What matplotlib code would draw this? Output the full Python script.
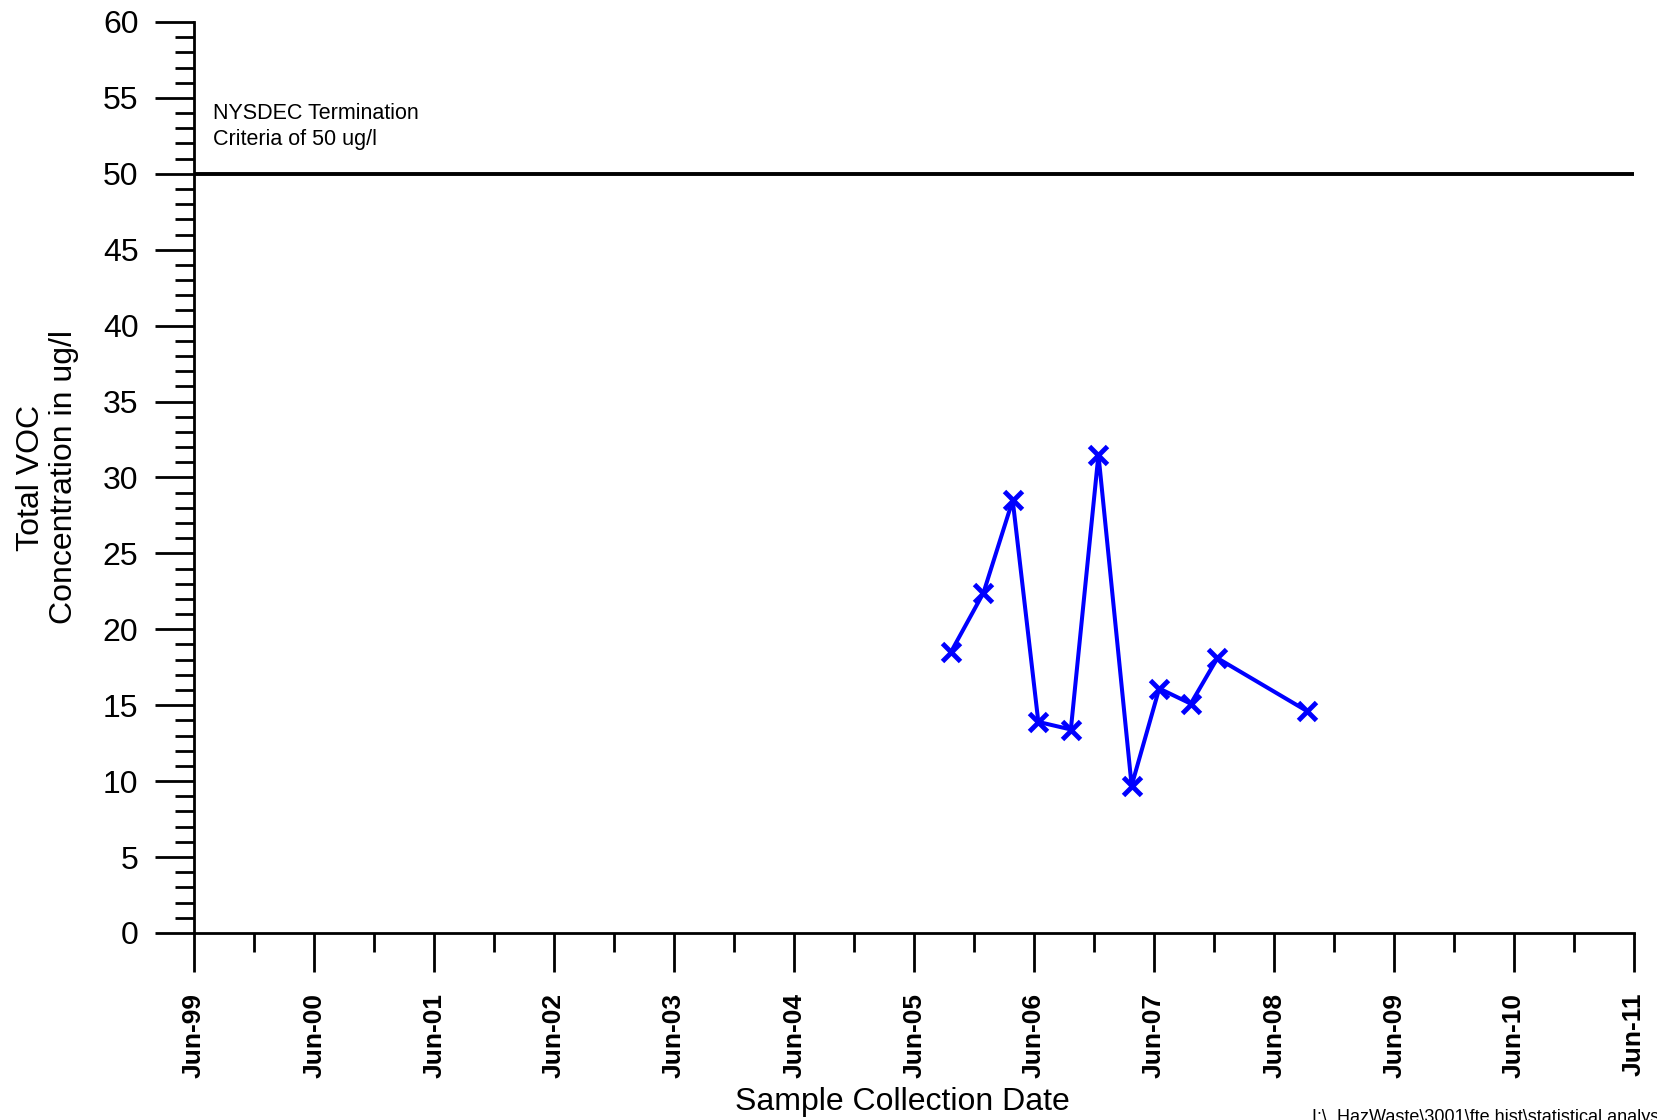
import datetime
import matplotlib
matplotlib.use('Agg')
import matplotlib.pyplot as plt
import matplotlib.dates as mdates
from matplotlib.ticker import MultipleLocator

plt.rcParams['font.family'] = ['Liberation Sans', 'DejaVu Sans']

# sample dates and total VOC concentrations (ug/l)
sample_dates = [
    datetime.date(2005, 9, 21), datetime.date(2005, 12, 29),
    datetime.date(2006, 3, 28), datetime.date(2006, 6, 14),
    datetime.date(2006, 9, 21), datetime.date(2006, 12, 14),
    datetime.date(2007, 3, 25), datetime.date(2007, 6, 17),
    datetime.date(2007, 9, 21), datetime.date(2007, 12, 11),
    datetime.date(2008, 9, 10),
]
total_voc = [18.5, 22.4, 28.5, 13.9, 13.4, 31.5, 9.7, 16.1, 15.1, 18.1, 14.6]

criteria_value = 50
criteria_label = 'NYSDEC Termination\nCriteria of 50 ug/l'
x_start = datetime.date(1999, 6, 1)
x_end = datetime.date(2011, 6, 1)

fig = plt.figure(figsize=(16.58, 11.2), dpi=100)
ax = fig.add_axes([0.117, 0.167, 0.8685, 0.8134])

ax.plot(sample_dates, total_voc, color='#0000ff', linewidth=2.9,
        marker='x', markersize=13, markeredgewidth=3.5, clip_on=False)
ax.axhline(criteria_value, color='black', linewidth=2.8)
ax.text(0.013, 0.911, criteria_label, transform=ax.transAxes,
        fontsize=15.5, va='top', ha='left', linespacing=1.3)

ax.set_xlim(x_start, x_end)
ax.set_ylim(0, 60)

ax.xaxis.set_major_locator(mdates.MonthLocator(bymonth=6))
ax.xaxis.set_minor_locator(mdates.MonthLocator(bymonth=12))
ax.xaxis.set_major_formatter(mdates.DateFormatter('%b-%y'))
ax.yaxis.set_major_locator(MultipleLocator(5))
ax.yaxis.set_minor_locator(MultipleLocator(1))

for side in ['top', 'right']:
    ax.spines[side].set_visible(False)
for side in ['left', 'bottom']:
    ax.spines[side].set_linewidth(2.0)

ax.tick_params(which='major', direction='out', length=28, width=2.0)
ax.tick_params(which='minor', direction='out', length=14, width=2.0)
ax.tick_params(axis='y', labelsize=23, pad=12)
ax.tick_params(axis='x', labelsize=19, pad=15)
for lbl in ax.get_xticklabels():
    lbl.set_rotation(90)
    lbl.set_fontweight('bold')

ax.set_xlabel('Sample Collection Date', fontsize=23)
ax.xaxis.set_label_coords(0.4917, -0.169)
ax.set_ylabel('Total VOC\nConcentration in ug/l', fontsize=23, labelpad=17,
              linespacing=1.15)

# file path footer, cut off at the page edge as in the original
fig.text(0.7915, 0.010, r'I:\_HazWaste\3001\fte hist\statistical analysis',
         fontsize=13, ha='left', va='top')

fig.savefig('out.png', dpi=100)
